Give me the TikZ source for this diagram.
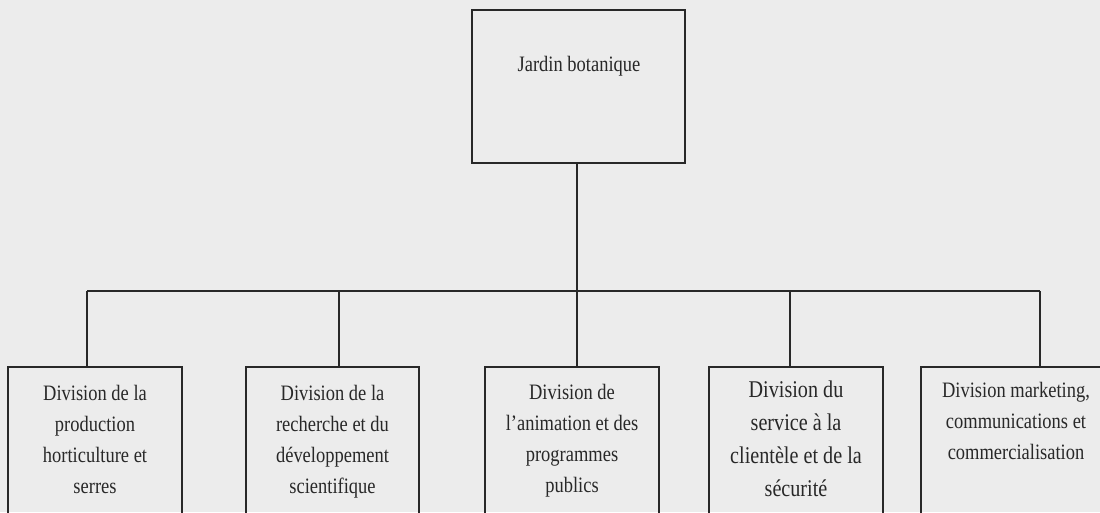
\documentclass[tikz,border=0pt]{standalone}
\usepackage{fontspec}
\setmainfont{Liberation Serif}[FakeStretch=0.84]
\definecolor{bgcol}{RGB}{236,236,236}
\definecolor{inkcol}{RGB}{40,40,40}
\tikzset{
  boxnode/.style={draw=inkcol, line width=1.6pt, inner sep=0pt, anchor=north},
  lbl/.style={text=inkcol, align=center, inner sep=0pt, font=\fontsize{22}{31}\selectfont},
  lblbig/.style={text=inkcol, align=center, inner sep=0pt, font=\fontsize{24}{33}\selectfont},
  wire/.style={draw=inkcol, line width=1.6pt}
}
\begin{document}
\begin{tikzpicture}[x=1pt,y=-1pt]
\useasboundingbox (0,0) rectangle (1100,512);
\clip (0,0) rectangle (1100,512);
\fill[bgcol] (0,0) rectangle (1100,512);

% top box
\node[boxnode, minimum width=213pt, minimum height=153pt] (top) at (578.5,9) {};
\node[lbl, anchor=base] (ttop) at (579,71) {Jardin botanique};

% child boxes
\node[boxnode, minimum width=174pt, minimum height=170pt] (b1) at (95,366) {};
\node[boxnode, minimum width=173pt, minimum height=170pt] (b2) at (332.5,366) {};
\node[boxnode, minimum width=174pt, minimum height=170pt] (b3) at (572,366) {};
\node[boxnode, minimum width=174pt, minimum height=170pt] (b4) at (796,366) {};
\node[boxnode, minimum width=190pt, minimum height=170pt] (b5) at (1016,366) {};

\node[lbl, anchor=north] (t1) at (95,385) {Division de la\\production\\horticulture et\\serres};
\node[lbl, anchor=north] (t2) at (332.5,385) {Division de la\\recherche et du\\développement\\scientifique};
\node[lbl, anchor=north] (t3) at (572,384) {Division de\\l’animation et des\\programmes\\publics};
\node[lblbig, anchor=north] (t4) at (796,381) {Division du\\service à la\\clientèle et de la\\sécurité};
\node[lbl, anchor=north] (t5) at (1016,382) {Division marketing,\\communications et\\commercialisation};

% connectors
\coordinate (j1) at (87,291);
\coordinate (j2) at (339,291);
\coordinate (j3) at (577,291);
\coordinate (j4) at (790,291);
\coordinate (j5) at (1040,291);
\draw[wire] (top.south -| j3) -- (j3);
\draw[wire] (j1) -- (j5);
\draw[wire] (j1) -- (j1 |- b1.north);
\draw[wire] (j2) -- (j2 |- b2.north);
\draw[wire] (j3) -- (j3 |- b3.north);
\draw[wire] (j4) -- (j4 |- b4.north);
\draw[wire] (j5) -- (j5 |- b5.north);
\end{tikzpicture}
\end{document}
